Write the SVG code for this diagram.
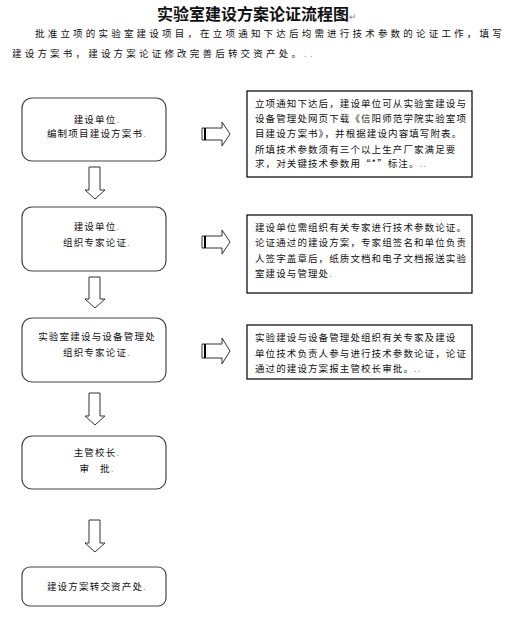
<svg xmlns="http://www.w3.org/2000/svg" width="508" height="621" viewBox="0 0 508 621">
<style>
text{font-family:"Noto Sans CJK SC","Noto Sans",sans-serif;fill:#111}
.t{font-size:16px;font-weight:bold}
.p{font-size:9.5px;letter-spacing:3.2px}
.n{font-size:9.5px;text-anchor:middle;letter-spacing:1.2px}
.r{font-size:9.5px;letter-spacing:1.1px}
.m{fill:#888}
.box{fill:#fff;stroke:#444;stroke-width:1.2}
.rb{fill:#fff;stroke:#000;stroke-width:1.2}
.ar{fill:#fff;stroke:#333;stroke-width:1}
</style>
<rect width="508" height="621" fill="#fff"/>
<text class="t" x="157" y="20">实验室建设方案论证流程图<tspan class="m" font-size="9" font-weight="normal">↵</tspan></text>
<text class="p" x="35" y="37">批准立项的实验室建设项目，在立项通知下达后均需进行技术参数的论证工作，填写</text>
<text class="p" x="12" y="57">建设方案书，建设方案论证修改完善后转交资产处。<tspan class="m">..</tspan></text>

<g id="n1"><rect class="box" x="22" y="98" width="144" height="63" rx="10"/>
<text class="n" x="97" y="123">建设单位<tspan class="m">.</tspan></text>
<text class="n" x="97" y="137">编制项目建设方案书<tspan class="m">.</tspan></text></g>

<g id="n2"><rect class="box" x="22" y="207" width="144" height="64" rx="10"/>
<text class="n" x="97" y="230">建设单位<tspan class="m">.</tspan></text>
<text class="n" x="97" y="246">组织专家论证<tspan class="m">.</tspan></text></g>

<g id="n3"><rect class="box" x="22" y="318" width="144" height="64" rx="10"/>
<text class="n" x="97" y="340">实验室建设与设备管理处</text>
<text class="n" x="97" y="356">组织专家论证<tspan class="m">.</tspan></text></g>

<g id="n4"><rect class="box" x="22" y="436" width="144" height="53" rx="10"/>
<text class="n" x="97" y="456">主管校长<tspan class="m">.</tspan></text>
<text class="n" x="97" y="472" xml:space="preserve">审   批<tspan class="m">.</tspan></text></g>

<g id="n5"><rect class="box" x="22" y="567" width="144" height="39" rx="8"/>
<text class="n" x="97" y="590">建设方案转交资产处<tspan class="m">.</tspan></text></g>

<g id="r1"><rect class="rb" x="247" y="91" width="225" height="86"/>
<text class="r" x="255" y="107">立项通知下达后，建设单位可从实验室建设与</text>
<text class="r" x="255" y="122">设备管理处网页下载《信阳师范学院实验室项</text>
<text class="r" x="255" y="137">目建设方案书》，并根据建设内容填写附表。</text>
<text class="r" x="255" y="153">所填技术参数须有三个以上生产厂家满足要</text>
<text class="r" x="255" y="167">求，对关键技术参数用“*”标注。<tspan class="m">..</tspan></text></g>

<g id="r2"><rect class="rb" x="247" y="215" width="225" height="78"/>
<text class="r" x="255" y="231">建设单位需组织有关专家进行技术参数论证。</text>
<text class="r" x="255" y="246">论证通过的建设方案，专家组签名和单位负责</text>
<text class="r" x="255" y="262">人签字盖章后，纸质文档和电子文档报送实验</text>
<text class="r" x="255" y="277">室建设与管理处<tspan class="m">.</tspan></text></g>

<g id="r3"><rect class="rb" x="247" y="325" width="225" height="54"/>
<text class="r" x="255" y="341">实验建设与设备管理处组织有关专家及建设</text>
<text class="r" x="255" y="357">单位技术负责人参与进行技术参数论证，论证</text>
<text class="r" x="255" y="372">通过的建设方案报主管校长审批。<tspan class="m">..</tspan></text></g>

<g id="connectors">
<path class="ar" d="M89,167 H100 V190 H105 L95,199 L85,190 H89 Z"/>
<path class="ar" d="M89,277 H100 V299 H105 L95,308 L85,299 H89 Z"/>
<path class="ar" d="M89,393 H100 V416 H105 L95,425 L85,416 H89 Z"/>
<path class="ar" d="M89,520 H100 V543 H105 L95,552 L85,543 H89 Z"/>
<g id="ra1"><path class="ar" d="M202,128 H222 V122 L230,134 L222,146 V140 H202 Z"/><line x1="205" y1="128" x2="205" y2="140" stroke="#000" stroke-width="2"/></g>
<g id="ra2"><path class="ar" d="M202,236 H222 V230 L230,242 L222,254 V248 H202 Z"/><line x1="205" y1="236" x2="205" y2="248" stroke="#000" stroke-width="2"/></g>
<g id="ra3"><path class="ar" d="M202,344 H222 V338 L230,351 L222,364 V358 H202 Z"/><line x1="205" y1="344" x2="205" y2="358" stroke="#000" stroke-width="2"/></g>
</g>
</svg>
